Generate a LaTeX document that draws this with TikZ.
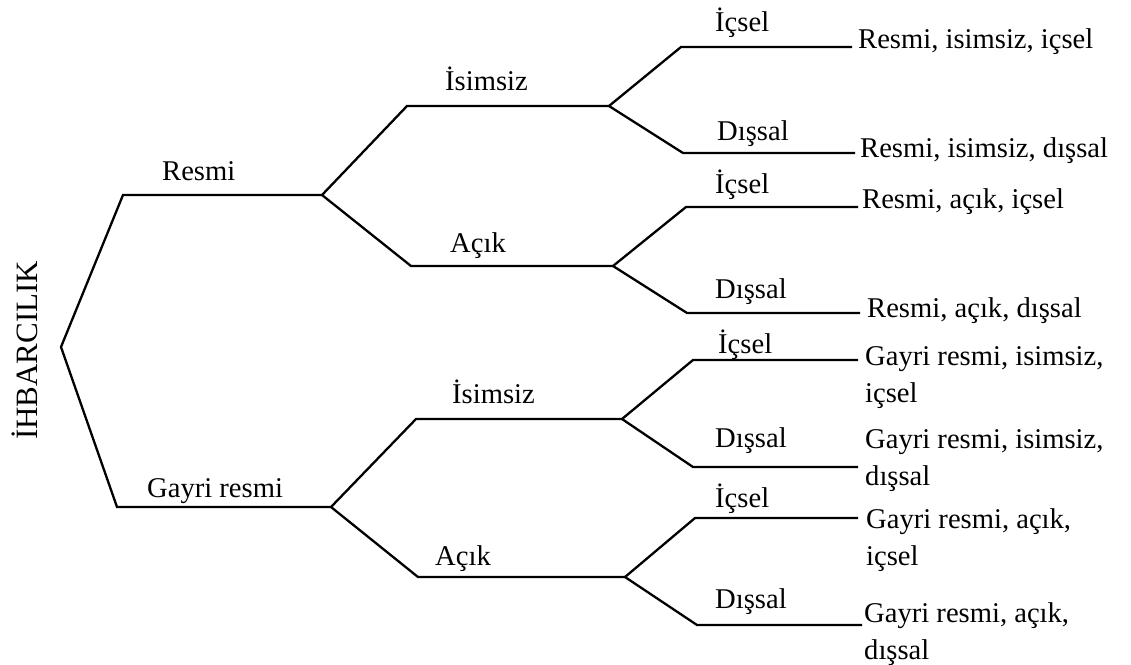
\documentclass[tikz,border=0pt]{standalone}
\usepackage{fontspec}
\setmainfont{Liberation Serif}
\begin{document}
\begin{tikzpicture}[x=1pt,y=-1pt,
  branch/.style={line width=2.3pt,line join=miter},
  lbl/.style={inner sep=0pt,anchor=base west,font=\fontsize{28.6}{37}\selectfont},
  leaf/.style={lbl,align=left}]
\useasboundingbox (0,0) rectangle (1131,664);

% root and first level
\coordinate (root) at (61,347);
\coordinate (rA) at (123,195); \coordinate (rB) at (322,195);
\coordinate (gA) at (117,507); \coordinate (gB) at (331,507);
% second level
\coordinate (riA) at (407,106); \coordinate (riB) at (609,106);
\coordinate (raA) at (411,266); \coordinate (raB) at (613,266);
\coordinate (giA) at (416,419); \coordinate (giB) at (622,419);
\coordinate (gaA) at (418,577); \coordinate (gaB) at (625,577);
% third level
\coordinate (l1A) at (681,47);  \coordinate (l1B) at (852,47);
\coordinate (l2A) at (683,153); \coordinate (l2B) at (855,153);
\coordinate (l3A) at (686,207); \coordinate (l3B) at (858,207);
\coordinate (l4A) at (687,313); \coordinate (l4B) at (860,313);
\coordinate (l5A) at (693,360); \coordinate (l5B) at (858,360);
\coordinate (l6A) at (693,467); \coordinate (l6B) at (858,467);
\coordinate (l7A) at (695,518); \coordinate (l7B) at (858,518);
\coordinate (l8A) at (697,625); \coordinate (l8B) at (862,625);

% branches
\draw[branch] (rB) -- (rA) -- (root) -- (gA) -- (gB);
\draw[branch] (riB) -- (riA) -- (rB) -- (raA) -- (raB);
\draw[branch] (giB) -- (giA) -- (gB) -- (gaA) -- (gaB);
\draw[branch] (l1B) -- (l1A) -- (riB) -- (l2A) -- (l2B);
\draw[branch] (l3B) -- (l3A) -- (raB) -- (l4A) -- (l4B);
\draw[branch] (l5B) -- (l5A) -- (giB) -- (l6A) -- (l6B);
\draw[branch] (l7B) -- (l7A) -- (gaB) -- (l8A) -- (l8B);

% root label
\node[lbl,rotate=90,font=\fontsize{31}{37}\selectfont] (ihb) at (37,440) {İHBARCILIK};

% branch labels
\node[lbl] (tRes) at (162,180) {Resmi};
\node[lbl] (tGay) at (147,497) {Gayri resmi};
\node[lbl] (tRI) at (445,90) {İsimsiz};
\node[lbl] (tRA) at (450,252) {Açık};
\node[lbl] (tGI) at (452,403) {İsimsiz};
\node[lbl] (tGA) at (435,565) {Açık};
\node[lbl] (t1) at (715,31) {İçsel};
\node[lbl] (t2) at (717,140) {Dışsal};
\node[lbl] (t3) at (715,193) {İçsel};
\node[lbl] (t4) at (715,298) {Dışsal};
\node[lbl] (t5) at (718,353) {İçsel};
\node[lbl] (t6) at (715,447) {Dışsal};
\node[lbl] (t7) at (715,507) {İçsel};
\node[lbl] (t8) at (715,608) {Dışsal};

% outcomes
\node[lbl] (o1) at (858,48) {Resmi, isimsiz, içsel};
\node[lbl] (o2) at (860,157) {Resmi, isimsiz, dışsal};
\node[lbl] (o3) at (862,208) {Resmi, açık, içsel};
\node[lbl] (o4) at (867,317) {Resmi, açık, dışsal};
\node[leaf] (o5) at (865,365) {\begin{tabular}[t]{@{}l@{}}Gayri resmi, isimsiz,\\içsel\end{tabular}};
\node[leaf] (o6) at (865,448) {\begin{tabular}[t]{@{}l@{}}Gayri resmi, isimsiz,\\dışsal\end{tabular}};
\node[leaf] (o7) at (866,528) {\begin{tabular}[t]{@{}l@{}}Gayri resmi, açık,\\içsel\end{tabular}};
\node[leaf] (o8) at (864,622) {\begin{tabular}[t]{@{}l@{}}Gayri resmi, açık,\\dışsal\end{tabular}};
\end{tikzpicture}
\end{document}
